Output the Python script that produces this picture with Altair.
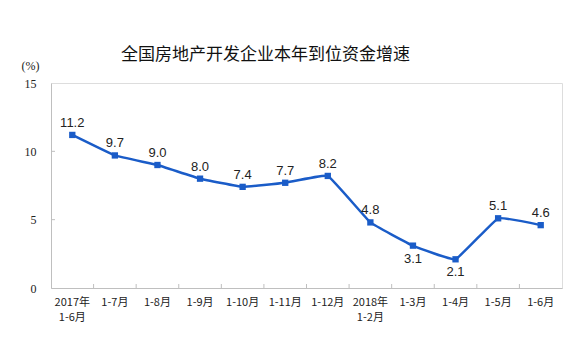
import altair as alt
import pandas as pd

categories = ["2017年\n1-6月", "1-7月", "1-8月", "1-9月", "1-10月", "1-11月", "1-12月",
              "2018年\n1-2月", "1-3月", "1-4月", "1-5月", "1-6月"]
values = [11.2, 9.7, 9.0, 8.0, 7.4, 7.7, 8.2, 4.8, 3.1, 2.1, 5.1, 4.6]
y_ticks = [0, 5, 10, 15]
title_text = "全国房地产开发企业本年到位资金增速"

df = pd.DataFrame({"cat": categories, "value": values})
df["label"] = df["value"].map(lambda v: f"{v:.1f}")
tick_df = pd.DataFrame({"t": [5, 10]})
xtick_df = pd.DataFrame({"cat": categories[1:]})

W, H = 511, 205
BLUE = "#1a5cc8"
GRAY = "#bfbfbf"

xscale = alt.Scale(domain=categories, paddingInner=0, paddingOuter=0)
yscale = alt.Scale(domain=[0, 15])

xenc = alt.X("cat:N", sort=categories, scale=xscale,
             axis=alt.Axis(title=None, labelAngle=0, ticks=False, domain=True,
                           bandPosition=0.5,
                           domainColor=GRAY, labelPadding=8,
                           labelExpr="split(datum.label, '\\n')",
                           labelLineHeight=15, labelFont="Noto Sans CJK SC",
                           labelFontSize=11, labelColor="#222222"))
yenc = alt.Y("value:Q", scale=yscale,
             axis=alt.Axis(title="(%)", titleAngle=0, titleX=-21, titleY=-18,
                           titleAlign="center", titleBaseline="middle",
                           titleFont="Liberation Serif", titleFontSize=12,
                           titleFontWeight="normal", titleColor="#222222",
                           values=y_ticks, ticks=False, grid=False,
                           domainColor=GRAY, labelPadding=15,
                           labelFont="Liberation Serif", labelFontSize=12,
                           labelColor="#222222"))

xplain = alt.X("cat:N", sort=categories, scale=xscale)
yplain = alt.Y("value:Q", scale=yscale)

base = alt.Chart(df)
line = base.mark_line(color=BLUE, strokeWidth=2.5, interpolate="cardinal", tension=0.75).encode(x=xenc, y=yenc)
pts = base.mark_point(shape="square", filled=True, color=BLUE, size=40, opacity=1).encode(
    x=xplain, y=yplain)
lab_up = base.transform_filter("datum.value >= 4").mark_text(
    dy=-12, font="Liberation Sans", fontSize=13, color="#222222").encode(
    x=xplain, y=yplain, text="label:N")
lab_down = base.transform_filter("datum.value < 4").mark_text(
    dy=13, font="Liberation Sans", fontSize=13, color="#222222").encode(
    x=xplain, y=yplain, text="label:N")

yticks = alt.Chart(tick_df).mark_rule(color=GRAY, strokeWidth=1).encode(
    y=alt.Y("t:Q", scale=yscale), x=alt.value(0), x2=alt.value(4))
xticks = alt.Chart(xtick_df).mark_rule(color=GRAY, strokeWidth=1).encode(
    x=alt.X("cat:N", sort=categories, scale=xscale, bandPosition=0),
    y=alt.value(H), y2=alt.value(H - 4))

chart = alt.layer(line, pts, lab_up, lab_down, yticks, xticks).properties(
    width=W, height=H,
    title=alt.TitleParams(title_text, anchor="middle", dx=-41, offset=-5,
                          font="Noto Sans CJK SC", fontSize=17, fontWeight="normal",
                          color="#111111"),
    autosize=alt.AutoSizeParams(type="none"),
    padding={"left": 43, "top": 75, "right": 17, "bottom": 60},
).configure_view(stroke=GRAY, strokeWidth=1.5).configure(background="white")

chart.save("out.html", embed_options={"renderer": "svg", "actions": False})
